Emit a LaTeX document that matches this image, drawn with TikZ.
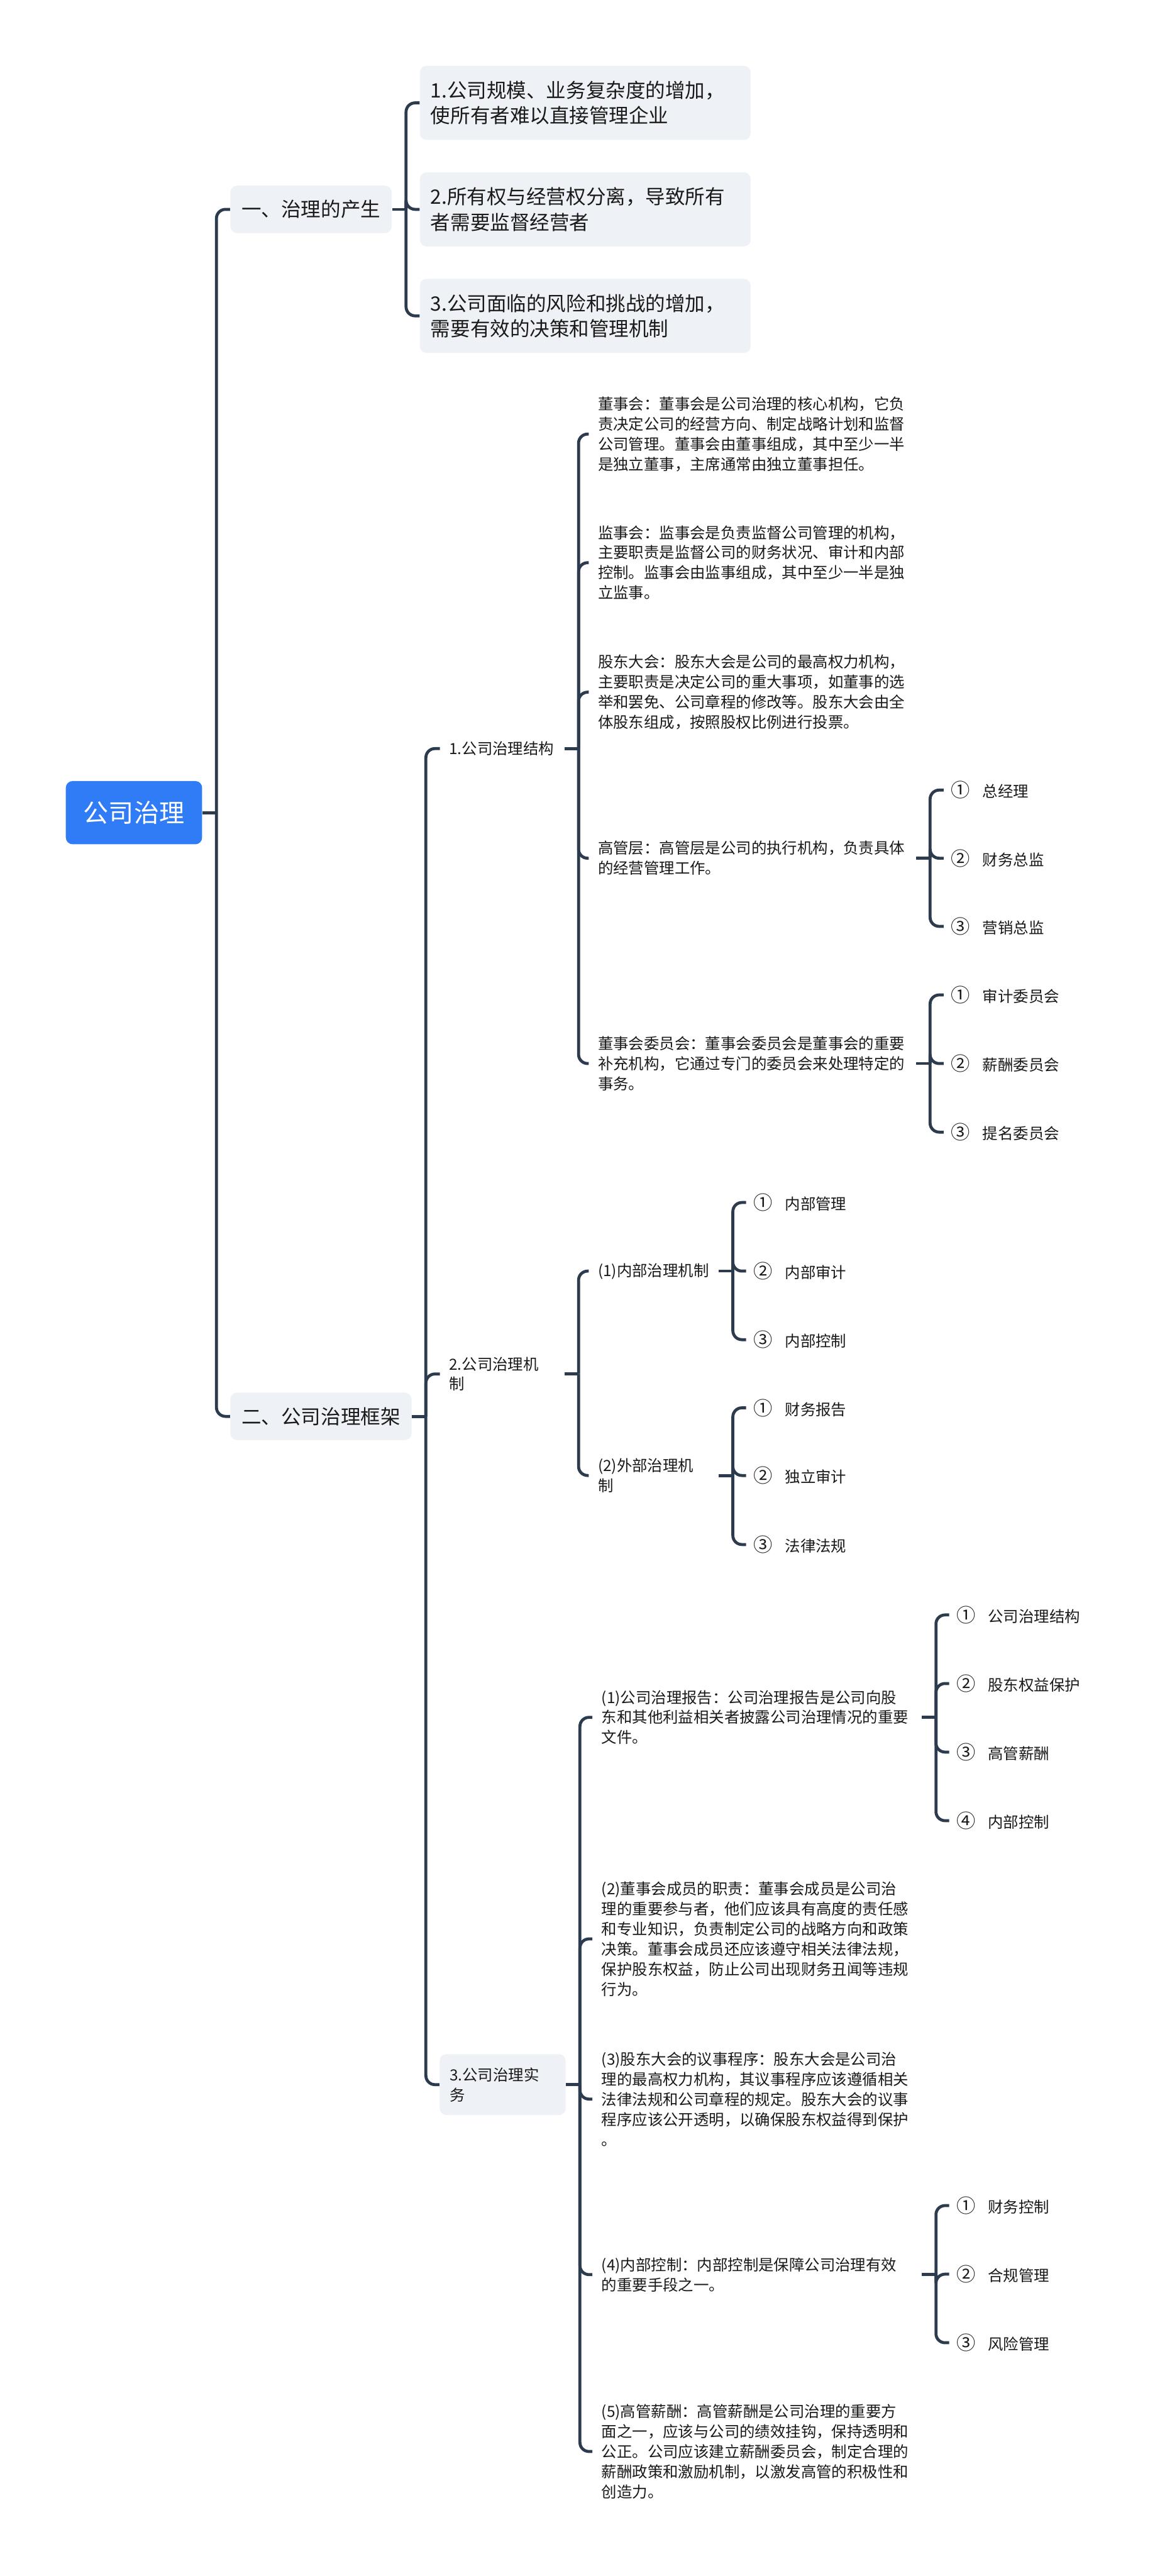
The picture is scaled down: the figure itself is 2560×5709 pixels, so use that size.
\documentclass[tikz,border=0pt]{standalone}
\usepackage{fontspec}
\usepackage{xcolor}
\usepackage{tikz}
\usetikzlibrary{positioning, calc}

\newfontfamily\cjk{Noto Sans CJK SC}
\definecolor{linecol}{HTML}{2D3B4E}
\definecolor{rootblue}{HTML}{2F7CF6}
\definecolor{boxgray}{HTML}{EEF1F5}
\definecolor{txtcol}{HTML}{1A1A1A}

\tikzset{
  link/.style={draw=linecol, line width=0.66mm, rounded corners=2mm},
  rootbox/.style={rectangle, rounded corners=1.5mm, fill=rootblue, text=white,
    font=\cjk\fontsize{15.9pt}{19pt}\selectfont, minimum width=3.02cm, minimum height=1.4cm},
  topbox/.style={rectangle, rounded corners=1.5mm, fill=boxgray, text=txtcol, anchor=west,
    font=\cjk\fontsize{12.5pt}{15.9pt}\selectfont, inner xsep=2.5mm, minimum height=1.05cm},
  notebox/.style={topbox, text width=6.85cm, align=left, inner xsep=2.4mm, minimum height=1.64cm},
  plain/.style={anchor=west, text=txtcol, align=left, inner xsep=2mm, inner ysep=0pt,
    font=\cjk\fontsize{9.67pt}{12.66pt}\selectfont},
  smallbox/.style={plain, rectangle, rounded corners=1.5mm, fill=boxgray, text width=2.35cm,
    inner xsep=2.2mm, minimum height=1.35cm},
  item/.style={plain, inner xsep=1.6mm}
}
\newcommand{\num}[2]{\makebox[2.05em][l]{\large #1}#2}

\begin{document}
\begin{tikzpicture}[x=0.01cm, y=-0.01cm, node distance=0.2cm]
\fill[white] (0,0) rectangle (2560,5709);
\useasboundingbox (0,0) rectangle (2560,5709);

% root and first level
\node[rootbox] (r) at (297,1801) {公司治理};
\node[topbox] (b1) at (510,464) {一、治理的产生};
\node[topbox] (b2) at (510,3139) {二、公司治理框架};

% origin of governance
\node[notebox] (c1) at (930,228) {1.公司规模、业务复杂度的增加，\\使所有者难以直接管理企业};
\node[notebox] (c2) at (930,464) {2.所有权与经营权分离，导致所有\\者需要监督经营者};
\node[notebox] (c3) at (930,700) {3.公司面临的风险和挑战的增加，\\需要有效的决策和管理机制};

% framework
\node[plain, text width=2.35cm] (d1) at (975,1659) {1.公司治理结构};
\node[plain, text width=2.35cm] (d2) at (975,3045) {2.公司治理机\\制};
\node[smallbox] (d3) at (974,4620) {3.公司治理实\\务};

% structure
\node[plain, text width=6.84cm] (e1) at (1305,962) {董事会：董事会是公司治理的核心机构，它负\\责决定公司的经营方向、制定战略计划和监督\\公司管理。董事会由董事组成，其中至少一半\\是独立董事，主席通常由独立董事担任。};
\node[plain, text width=6.84cm] (e2) at (1305,1247) {监事会：监事会是负责监督公司管理的机构，\\主要职责是监督公司的财务状况、审计和内部\\控制。监事会由监事组成，其中至少一半是独\\立监事。};
\node[plain, text width=6.84cm] (e3) at (1305,1534) {股东大会：股东大会是公司的最高权力机构，\\主要职责是决定公司的重大事项，如董事的选\\举和罢免、公司章程的修改等。股东大会由全\\体股东组成，按照股权比例进行投票。};
\node[plain, text width=6.84cm] (e4) at (1305,1902) {高管层：高管层是公司的执行机构，负责具体\\的经营管理工作。};
\node[plain, text width=6.84cm] (e5) at (1305,2357) {董事会委员会：董事会委员会是董事会的重要\\补充机构，它通过专门的委员会来处理特定的\\事务。};

\node[item] (f1) at (2092,1751) {\num{①}{总经理}};
\node[item] (f2) at (2092,1902) {\num{②}{财务总监}};
\node[item] (f3) at (2092,2053) {\num{③}{营销总监}};
\node[item] (g1) at (2092,2205) {\num{①}{审计委员会}};
\node[item] (g2) at (2092,2357) {\num{②}{薪酬委员会}};
\node[item] (g3) at (2092,2509) {\num{③}{提名委员会}};

% mechanism
\node[plain, text width=2.47cm] (h1) at (1305,2817) {(1)内部治理机制};
\node[plain, text width=2.47cm] (h2) at (1305,3270) {(2)外部治理机\\制};
\node[item] (i1) at (1654,2665) {\num{①}{内部管理}};
\node[item] (i2) at (1654,2817) {\num{②}{内部审计}};
\node[item] (i3) at (1654,2969) {\num{③}{内部控制}};
\node[item] (j1) at (1654,3120) {\num{①}{财务报告}};
\node[item] (j2) at (1654,3270) {\num{②}{独立审计}};
\node[item] (j3) at (1654,3423) {\num{③}{法律法规}};

% practice
\node[plain, text width=6.89cm] (k1) at (1313,3806) {(1)公司治理报告：公司治理报告是公司向股\\东和其他利益相关者披露公司治理情况的重要\\文件。};
\node[plain, text width=6.89cm] (k2) at (1313,4297) {(2)董事会成员的职责：董事会成员是公司治\\理的重要参与者，他们应该具有高度的责任感\\和专业知识，负责制定公司的战略方向和政策\\决策。董事会成员还应该遵守相关法律法规，\\保护股东权益，防止公司出现财务丑闻等违规\\行为。};
\node[plain, text width=6.89cm] (k3) at (1313,4652) {(3)股东大会的议事程序：股东大会是公司治\\理的最高权力机构，其议事程序应该遵循相关\\法律法规和公司章程的规定。股东大会的议事\\程序应该公开透明，以确保股东权益得到保护\\。};
\node[plain, text width=6.89cm] (k4) at (1313,5041) {(4)内部控制：内部控制是保障公司治理有效\\的重要手段之一。};
\node[plain, text width=6.89cm] (k5) at (1313,5433) {(5)高管薪酬：高管薪酬是公司治理的重要方\\面之一，应该与公司的绩效挂钩，保持透明和\\公正。公司应该建立薪酬委员会，制定合理的\\薪酬政策和激励机制，以激发高管的积极性和\\创造力。};

\node[item] (m1) at (2104,3579) {\num{①}{公司治理结构}};
\node[item] (m2) at (2104,3731) {\num{②}{股东权益保护}};
\node[item] (m3) at (2104,3883) {\num{③}{高管薪酬}};
\node[item] (m4) at (2104,4035) {\num{④}{内部控制}};
\node[item] (n1) at (2104,4888) {\num{①}{财务控制}};
\node[item] (n2) at (2104,5040) {\num{②}{合规管理}};
\node[item] (n3) at (2104,5192) {\num{③}{风险管理}};

% connectors
\draw[link] (r.east) -- ++(31,0) coordinate (rj);
\foreach \n in {b1,b2} \draw[link] (rj) |- (\n.west);
\draw[link] (b1.east) -- ++(31,0) coordinate (b1j);
\foreach \n in {c1,c2,c3} \draw[link] (b1j) |- (\n.west);
\draw[link] (b2.east) -- ++(31,0) coordinate (b2j);
\foreach \n in {d1,d2,d3} \draw[link] (b2j) |- (\n.west);

\draw[link] (d1.east) -- ++(31,0) coordinate (d1j);
\foreach \n in {e1,e2,e3,e4,e5} \draw[link] (d1j) |- (\n.west);
\draw[link] (e4.east) -- ++(31,0) coordinate (e4j);
\foreach \n in {f1,f2,f3} \draw[link] (e4j) |- (\n.west);
\draw[link] (e5.east) -- ++(31,0) coordinate (e5j);
\foreach \n in {g1,g2,g3} \draw[link] (e5j) |- (\n.west);

\draw[link] (d2.east) -- ++(31,0) coordinate (d2j);
\foreach \n in {h1,h2} \draw[link] (d2j) |- (\n.west);
\draw[link] (h1.east) -- ++(31,0) coordinate (h1j);
\foreach \n in {i1,i2,i3} \draw[link] (h1j) |- (\n.west);
\draw[link] (h2.east) -- ++(31,0) coordinate (h2j);
\foreach \n in {j1,j2,j3} \draw[link] (h2j) |- (\n.west);

\draw[link] (d3.east) -- ++(31,0) coordinate (d3j);
\foreach \n in {k1,k2,k3,k4,k5} \draw[link] (d3j) |- (\n.west);
\draw[link] (k1.east) -- ++(31,0) coordinate (k1j);
\foreach \n in {m1,m2,m3,m4} \draw[link] (k1j) |- (\n.west);
\draw[link] (k4.east) -- ++(31,0) coordinate (k4j);
\foreach \n in {n1,n2,n3} \draw[link] (k4j) |- (\n.west);

\end{tikzpicture}
\end{document}
